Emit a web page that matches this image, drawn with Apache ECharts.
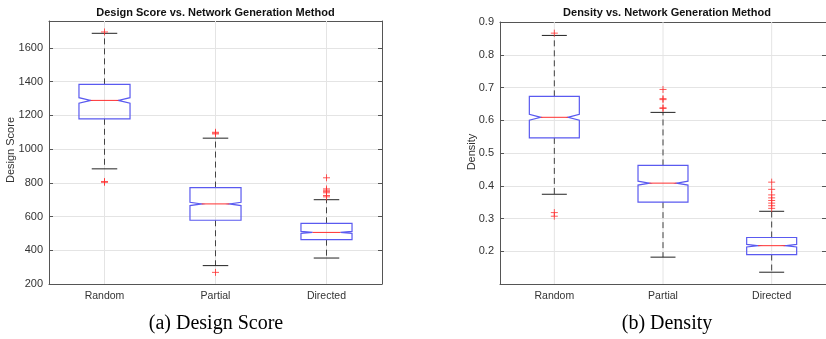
<!DOCTYPE html>
<html>
<head>
<meta charset="utf-8">
<script src="https://cdn.jsdelivr.net/npm/echarts@6/dist/echarts.min.js"></script>
<style>
  html, body { margin: 0; padding: 0; background: #fff; }
  #chart { width: 826px; height: 339px; }
</style>
</head>
<body>
<div id="chart"></div>
<script>
// ---- data ----
const categories = ['Random', 'Partial', 'Directed'];

const scoreLowerWhisker = [883, 309, 354];
const scoreQ1 = [1180, 578, 463];
const scoreNotchLow = [1273, 665, 500];
const scoreMedian = [1289, 675, 506];
const scoreNotchHigh = [1305, 685, 512];
const scoreQ3 = [1384, 772, 560];
const scoreUpperWhisker = [1687, 1065, 700];
const scoreOutliers = [
  [1695, 808, 803],
  [1100, 1095, 1090, 269],
  [830, 764, 756, 748, 741, 725, 717]
];
const scoreTicks = [200, 400, 600, 800, 1000, 1200, 1400, 1600];

const densityLowerWhisker = [0.374, 0.182, 0.136];
const densityQ1 = [0.546, 0.350, 0.190];
const densityNotchLow = [0.600, 0.402, 0.213];
const densityMedian = [0.609, 0.408, 0.217];
const densityNotchHigh = [0.618, 0.414, 0.221];
const densityQ3 = [0.673, 0.462, 0.242];
const densityUpperWhisker = [0.859, 0.624, 0.322];
const densityOutliers = [
  [0.866, 0.318, 0.307],
  [0.694, 0.666, 0.663, 0.638, 0.636],
  [0.411, 0.389, 0.372, 0.363, 0.355, 0.347, 0.339, 0.331]
];
const densityTicks = [0.2, 0.3, 0.4, 0.5, 0.6, 0.7, 0.8, 0.9];

const titles = ['Design Score vs. Network Generation Method', 'Density vs. Network Generation Method'];
const yNames = ['Design Score', 'Density'];
const captions = ['(a) Design Score', '(b) Density'];

// ---- build ----
function boxRows(lw, q1, nlo, med, nhi, q3, uw) {
  return categories.map((c, i) => [i, lw[i], q1[i], nlo[i], med[i], nhi[i], q3[i], uw[i]]);
}
function outlierRows(list) {
  const rows = [];
  list.forEach((arr, i) => arr.forEach(v => rows.push([i, v])));
  return rows;
}

const BLUE = '#5a5af0';
const RED = '#ff3030';
const GRIDC = '#e4e4e4';
const AXC = '#555';
const TXT = '#333';
const FONT = 'Liberation Sans, Arial';

function renderBox(params, api) {
  const xi = api.value(0);
  const cs = params.coordSys;
  const cx = api.coord([xi, api.value(4)])[0];
  const band = api.size([1, 0])[0];
  const half = band * 0.23;
  const notch = band * 0.105;
  const capHalf = band * 0.115;
  const py = k => api.coord([xi, api.value(k)])[1];
  const lw = py(1), q1 = py(2), nlo = py(3), med = py(4), nhi = py(5), q3 = py(6), uw = py(7);
  const dash = { stroke: '#444', lineWidth: 1, lineDash: [6, 4] };
  return {
    type: 'group',
    children: [
      { type: 'line', shape: { x1: cx, y1: cs.y, x2: cx, y2: cs.y + cs.height }, style: { stroke: GRIDC, lineWidth: 1 }, silent: true },
      { type: 'line', shape: { x1: cx, y1: q3, x2: cx, y2: uw }, style: dash },
      { type: 'line', shape: { x1: cx, y1: q1, x2: cx, y2: lw }, style: dash },
      { type: 'line', shape: { x1: cx - capHalf, y1: uw, x2: cx + capHalf, y2: uw }, style: { stroke: '#222', lineWidth: 1 } },
      { type: 'line', shape: { x1: cx - capHalf, y1: lw, x2: cx + capHalf, y2: lw }, style: { stroke: '#222', lineWidth: 1 } },
      { type: 'polygon', shape: { points: [
          [cx - half, q3], [cx + half, q3], [cx + half, nhi], [cx + half - notch, med],
          [cx + half, nlo], [cx + half, q1], [cx - half, q1], [cx - half, nlo],
          [cx - half + notch, med], [cx - half, nhi]
        ] }, style: { fill: 'none', stroke: BLUE, lineWidth: 1.2 } },
      { type: 'line', shape: { x1: cx - half + notch, y1: med, x2: cx + half - notch, y2: med }, style: { stroke: RED, lineWidth: 1 } }
    ]
  };
}

const grids = [
  { left: 49, top: 21, width: 333, height: 263 },
  { left: 500, top: 22, width: 334, height: 262 }
];

function xAxes(gi) {
  return [
    { type: 'category', data: categories, gridIndex: gi, position: 'bottom',
      axisLine: { lineStyle: { color: AXC } },
      axisTick: { inside: true, alignWithLabel: true, length: 4, lineStyle: { color: AXC } },
      axisLabel: { color: TXT, fontSize: 10.5, fontFamily: FONT, margin: 7 },
      splitLine: { show: false } },
    { type: 'category', data: categories, gridIndex: gi, position: 'top',
      axisLine: { lineStyle: { color: AXC } },
      axisTick: { inside: true, alignWithLabel: true, length: 4, lineStyle: { color: AXC } },
      axisLabel: { show: false }, splitLine: { show: false } }
  ];
}
function yAxes(gi, min, max, interval, labelOpts) {
  return [
    { type: 'value', gridIndex: gi, min, max, interval, position: 'left',
      axisLine: { show: true, lineStyle: { color: AXC } },
      axisTick: { show: true, inside: true, length: 4, lineStyle: { color: AXC } },
      axisLabel: Object.assign({ color: TXT, fontSize: 11, fontFamily: FONT, margin: 6 }, labelOpts),
      splitLine: { show: true, lineStyle: { color: GRIDC } } },
    { type: 'value', gridIndex: gi, min, max, interval, position: 'right',
      axisLine: { show: true, lineStyle: { color: AXC } },
      axisTick: { show: true, inside: true, length: 4, lineStyle: { color: AXC } },
      axisLabel: { show: false }, splitLine: { show: false } }
  ];
}

const option = {
  animation: false,
  backgroundColor: '#fff',
  grid: grids,
  xAxis: [...xAxes(0), ...xAxes(1)],
  yAxis: [
    ...yAxes(0, 200, 1760, 200, { showMaxLabel: false, formatter: v => String(v) }),
    ...yAxes(1, 0.1, 0.9, 0.1, { showMinLabel: false, formatter: v => v.toFixed(1) })
  ],
  graphic: [
    { type: 'text', x: 215.5, y: 13, style: { text: titles[0], font: 'bold 11px "Liberation Sans", Arial', fill: '#111', textAlign: 'center', textVerticalAlign: 'middle' } },
    { type: 'text', x: 667, y: 13, style: { text: titles[1], font: 'bold 11px "Liberation Sans", Arial', fill: '#111', textAlign: 'center', textVerticalAlign: 'middle' } },
    { type: 'text', x: 11, y: 150, rotation: Math.PI / 2, style: { text: yNames[0], font: '11px "Liberation Sans", Arial', fill: TXT, textAlign: 'center', textVerticalAlign: 'middle' } },
    { type: 'text', x: 472, y: 152, rotation: Math.PI / 2, style: { text: yNames[1], font: '11px "Liberation Sans", Arial', fill: TXT, textAlign: 'center', textVerticalAlign: 'middle' } },
    { type: 'text', x: 216, y: 324, style: { text: captions[0], font: '20px "Liberation Serif", "Times New Roman", serif', fill: '#000', textAlign: 'center', textVerticalAlign: 'middle' } },
    { type: 'text', x: 667, y: 324, style: { text: captions[1], font: '20px "Liberation Serif", "Times New Roman", serif', fill: '#000', textAlign: 'center', textVerticalAlign: 'middle' } }
  ],
  series: [
    { type: 'custom', xAxisIndex: 0, yAxisIndex: 0, z: 2, renderItem: renderBox,
      encode: { x: 0, y: [1, 2, 3, 4, 5, 6, 7] },
      data: boxRows(scoreLowerWhisker, scoreQ1, scoreNotchLow, scoreMedian, scoreNotchHigh, scoreQ3, scoreUpperWhisker) },
    { type: 'scatter', xAxisIndex: 0, yAxisIndex: 0, z: 3, symbol: 'path://M5,0L5,10M0,5L10,5', symbolSize: 7,
      itemStyle: { color: 'none', borderColor: RED, borderWidth: 1 }, data: outlierRows(scoreOutliers) },
    { type: 'custom', xAxisIndex: 2, yAxisIndex: 2, z: 2, renderItem: renderBox,
      encode: { x: 0, y: [1, 2, 3, 4, 5, 6, 7] },
      data: boxRows(densityLowerWhisker, densityQ1, densityNotchLow, densityMedian, densityNotchHigh, densityQ3, densityUpperWhisker) },
    { type: 'scatter', xAxisIndex: 2, yAxisIndex: 2, z: 3, symbol: 'path://M5,0L5,10M0,5L10,5', symbolSize: 7,
      itemStyle: { color: 'none', borderColor: RED, borderWidth: 1 }, data: outlierRows(densityOutliers) }
  ]
};

const chart = echarts.init(document.getElementById('chart'), null, { renderer: 'canvas' });
chart.setOption(option);
</script>
</body>
</html>
